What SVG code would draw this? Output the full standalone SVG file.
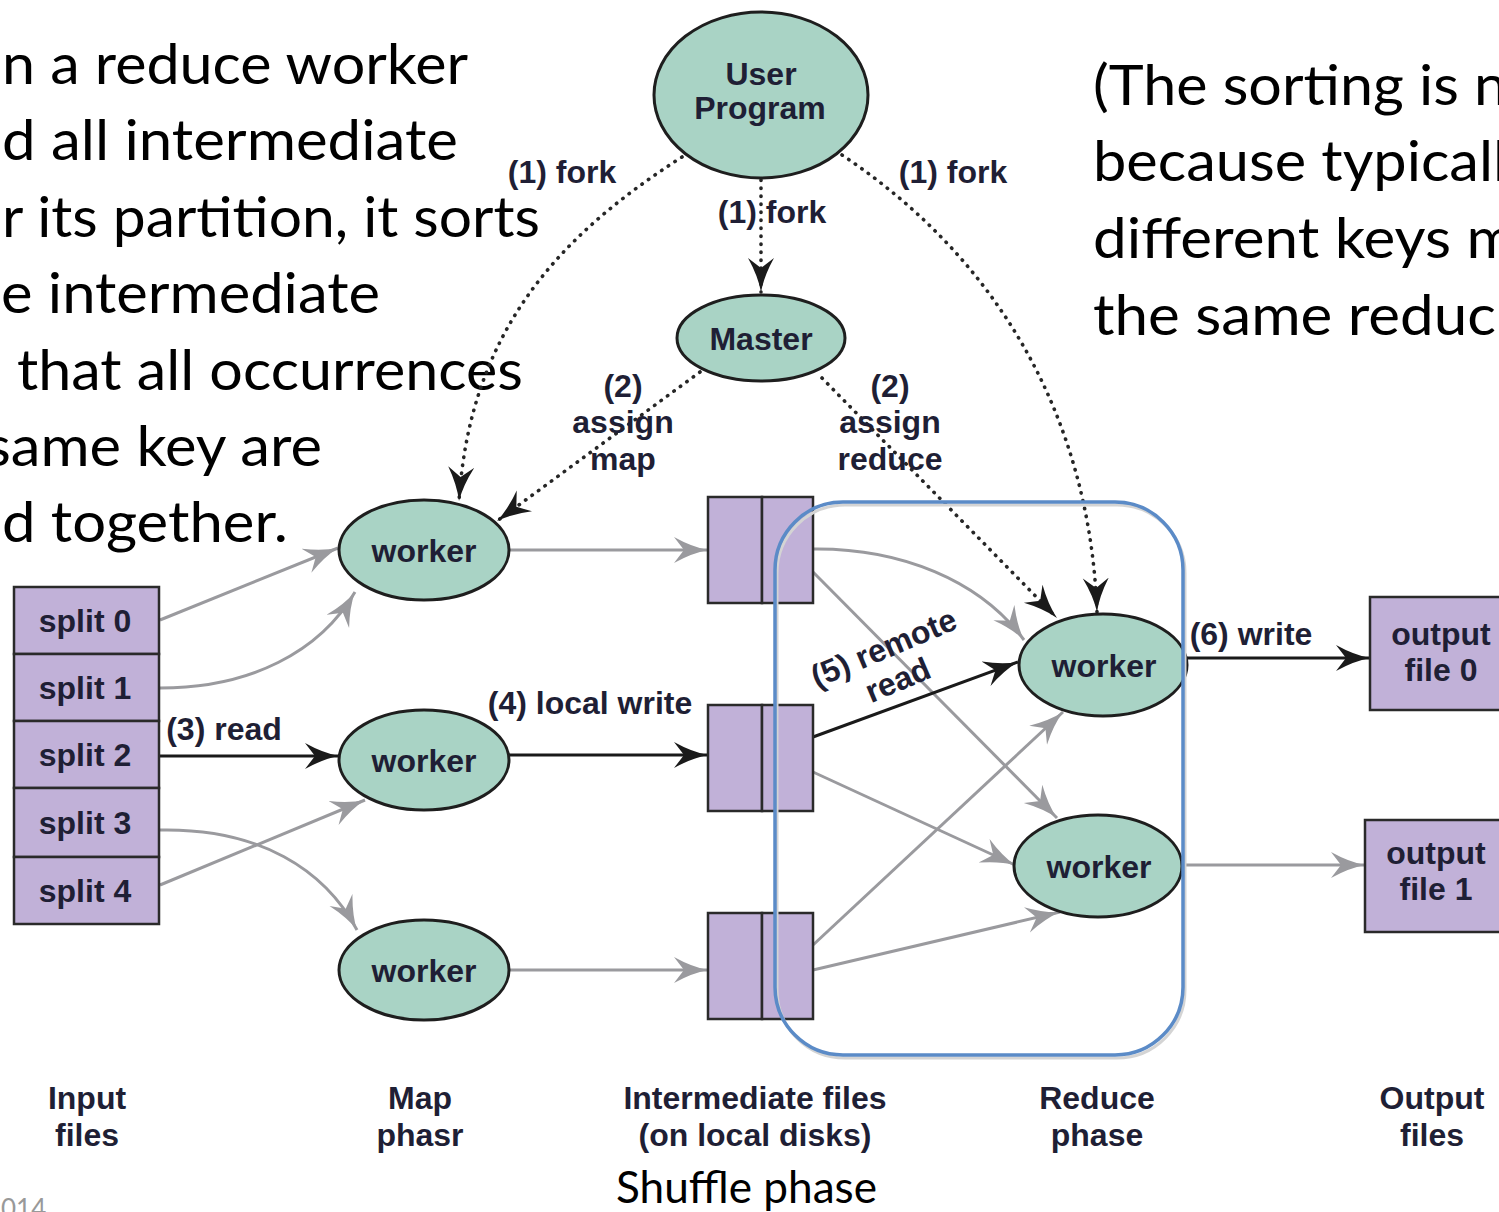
<svg xmlns="http://www.w3.org/2000/svg" width="1499" height="1212" viewBox="0 0 1499 1212">
<defs>
<style>
.big{font-family:Lato,"Open Sans",sans-serif;font-size:57px;fill:#000}
.lbl{font-family:"Liberation Sans",Arial,sans-serif;font-weight:bold;font-size:32px;fill:#1f1f35;text-anchor:middle}
.ell{fill:#a9d3c5;stroke:#1e1e1e;stroke-width:3}
.box{fill:#c1b1d8;stroke:#2a2a2a;stroke-width:2.5}
.gray{fill:none;stroke:#9a9a9e;stroke-width:3;marker-end:url(#ag)}
.blk{fill:none;stroke:#1a1a1a;stroke-width:3;marker-end:url(#ab)}
.dot{fill:none;stroke:#262626;stroke-width:3.6;stroke-linecap:round;stroke-dasharray:0.4 7.6;marker-end:url(#ab)}
</style>
<marker id="ab" markerUnits="userSpaceOnUse" markerWidth="36" markerHeight="28" refX="34" refY="13" orient="auto">
<path d="M0,0 Q18,10 34,13 Q18,16 0,26 L10,13 z" fill="#1a1a1a"/>
</marker>
<marker id="ag" markerUnits="userSpaceOnUse" markerWidth="36" markerHeight="28" refX="34" refY="13" orient="auto">
<path d="M0,0 Q18,10 34,13 Q18,16 0,26 L10,13 z" fill="#9a9a9e"/>
</marker>
</defs>
<rect width="1499" height="1212" fill="#fff"/>

<g id="text-left" class="big">
<text x="2" y="84" textLength="466" lengthAdjust="spacingAndGlyphs">n a reduce worker</text>
<text x="2" y="160" textLength="456" lengthAdjust="spacingAndGlyphs">d all intermediate</text>
<text x="2" y="237" textLength="538" lengthAdjust="spacingAndGlyphs">r its partition, it sorts</text>
<text x="1" y="313" textLength="379" lengthAdjust="spacingAndGlyphs">e intermediate</text>
<text x="17" y="390" textLength="506" lengthAdjust="spacingAndGlyphs">that all occurrences</text>
<text x="-15" y="466" textLength="337" lengthAdjust="spacingAndGlyphs">same key are</text>
<text x="2" y="542" textLength="286" lengthAdjust="spacingAndGlyphs">d together.</text>
</g>
<g id="text-right" class="big">
<text x="1093" y="105" textLength="414" lengthAdjust="spacingAndGlyphs">(The sorting is n</text>
<text x="1093" y="181" textLength="414" lengthAdjust="spacingAndGlyphs">because typicall</text>
<text x="1093" y="258" textLength="423" lengthAdjust="spacingAndGlyphs">different keys m</text>
<text x="1093" y="335" textLength="403" lengthAdjust="spacingAndGlyphs">the same reduc</text>
</g>

<g id="connectors">
<path class="dot" d="M761,180 L761,292"/>
<path class="dot" d="M682,157 C560,235 470,330 459,501"/>
<path class="dot" d="M842,155 C1000,260 1090,420 1097,612"/>
<path class="dot" d="M700,372 L497,521"/>
<path class="dot" d="M822,378 L1057,618"/>
<path class="gray" d="M160,620 L338,548"/>
<path class="gray" d="M160,688 C250,688 320,652 355,592"/>
<path class="blk" d="M160,756 L339,756"/>
<path class="gray" d="M160,830 C260,828 325,870 357,930"/>
<path class="gray" d="M160,885 L365,800"/>
<path class="gray" d="M508,550 L708,550"/>
<path class="blk" d="M508,755 L708,755"/>
<path class="gray" d="M508,970 L708,970"/>
<path class="gray" d="M813,549 C900,548 980,580 1024,640"/>
<path class="gray" d="M813,572 L1057,818"/>
<path class="blk" d="M813,737 L1018,662"/>
<path class="gray" d="M813,772 L1015,865"/>
<path class="gray" d="M813,945 L1063,712"/>
<path class="gray" d="M813,970 L1060,912"/>
<path class="blk" d="M1187,658 L1370,658"/>
<path class="gray" d="M1182,865 L1365,865"/>
</g>

<g id="user-program">
<ellipse class="ell" cx="761" cy="95" rx="107" ry="83"/>
<text class="lbl" x="761" y="85">User</text>
<text class="lbl" x="760" y="119">Program</text>
</g>
<g id="master">
<ellipse class="ell" cx="761" cy="338" rx="84" ry="43"/>
<text class="lbl" x="761" y="350">Master</text>
</g>
<g id="input-files">
<rect class="box" x="14" y="587" width="145" height="67"/>
<rect class="box" x="14" y="654" width="145" height="67"/>
<rect class="box" x="14" y="721" width="145" height="67"/>
<rect class="box" x="14" y="788" width="145" height="69"/>
<rect class="box" x="14" y="857" width="145" height="67"/>
<text class="lbl" x="85" y="632">split 0</text>
<text class="lbl" x="85" y="699">split 1</text>
<text class="lbl" x="85" y="766">split 2</text>
<text class="lbl" x="85" y="834">split 3</text>
<text class="lbl" x="85" y="902">split 4</text>
</g>
<g id="map-worker-1">
<ellipse class="ell" cx="424" cy="550" rx="85" ry="50"/>
<text class="lbl" x="424" y="562">worker</text>
</g>
<g id="map-worker-2">
<ellipse class="ell" cx="424" cy="760" rx="85" ry="50"/>
<text class="lbl" x="424" y="772">worker</text>
</g>
<g id="map-worker-3">
<ellipse class="ell" cx="424" cy="970" rx="85" ry="50"/>
<text class="lbl" x="424" y="982">worker</text>
</g>
<g id="intermediate-1">
<rect class="box" x="708" y="497" width="54" height="106"/>
<rect class="box" x="762" y="497" width="51" height="106"/>
</g>
<g id="intermediate-2">
<rect class="box" x="708" y="705" width="54" height="106"/>
<rect class="box" x="762" y="705" width="51" height="106"/>
</g>
<g id="intermediate-3">
<rect class="box" x="708" y="913" width="54" height="106"/>
<rect class="box" x="762" y="913" width="51" height="106"/>
</g>
<g id="reduce-worker-1">
<ellipse class="ell" cx="1103" cy="665" rx="84" ry="51"/>
<text class="lbl" x="1104" y="677">worker</text>
</g>
<g id="reduce-worker-2">
<ellipse class="ell" cx="1098" cy="866" rx="84" ry="51"/>
<text class="lbl" x="1099" y="878">worker</text>
</g>
<g id="output-file-0">
<rect class="box" x="1370" y="597" width="140" height="113"/>
<text class="lbl" x="1441" y="645">output</text>
<text class="lbl" x="1441" y="681">file 0</text>
</g>
<g id="output-file-1">
<rect class="box" x="1365" y="820" width="140" height="112"/>
<text class="lbl" x="1436" y="864">output</text>
<text class="lbl" x="1436" y="900">file 1</text>
</g>

<g id="shuffle-frame">
<rect x="777" y="505" width="408" height="553" rx="68" fill="none" stroke="#d4d4d4" stroke-width="3"/>
<rect x="775" y="502" width="408" height="553" rx="68" fill="none" stroke="#5b8bc7" stroke-width="3.5"/>
</g>

<g id="edge-labels">
<text class="lbl" x="562" y="183">(1) fork</text>
<text class="lbl" x="953" y="183">(1) fork</text>
<text class="lbl" x="772" y="223">(1) fork</text>
<text class="lbl" x="623" y="397">(2)</text>
<text class="lbl" x="623" y="433">assign</text>
<text class="lbl" x="623" y="470">map</text>
<text class="lbl" x="890" y="397">(2)</text>
<text class="lbl" x="890" y="433">assign</text>
<text class="lbl" x="890" y="470">reduce</text>
<text class="lbl" x="224" y="740">(3) read</text>
<text class="lbl" x="590" y="714">(4) local write</text>
<text class="lbl" x="0" y="0" font-size="30" transform="translate(888,658) rotate(-23)">(5) remote</text>
<text class="lbl" x="0" y="0" font-size="30" transform="translate(902,690) rotate(-23)">read</text>
<text class="lbl" x="1251" y="645">(6) write</text>
</g>

<g id="phase-labels">
<text class="lbl" x="87" y="1109">Input</text>
<text class="lbl" x="87" y="1146">files</text>
<text class="lbl" x="420" y="1109">Map</text>
<text class="lbl" x="420" y="1146">phasr</text>
<text class="lbl" x="755" y="1109">Intermediate files</text>
<text class="lbl" x="755" y="1146">(on local disks)</text>
<text class="lbl" x="1097" y="1109">Reduce</text>
<text class="lbl" x="1097" y="1146">phase</text>
<text class="lbl" x="1432" y="1109">Output</text>
<text class="lbl" x="1432" y="1146">files</text>
<text x="616" y="1203" font-family="Lato,'Open Sans',sans-serif" font-size="44" textLength="261" lengthAdjust="spacingAndGlyphs" fill="#000">Shuffle phase</text>
<text x="1" y="1218" font-family="Lato,'Open Sans',sans-serif" font-size="26" fill="#999">014</text>
</g>
</svg>
